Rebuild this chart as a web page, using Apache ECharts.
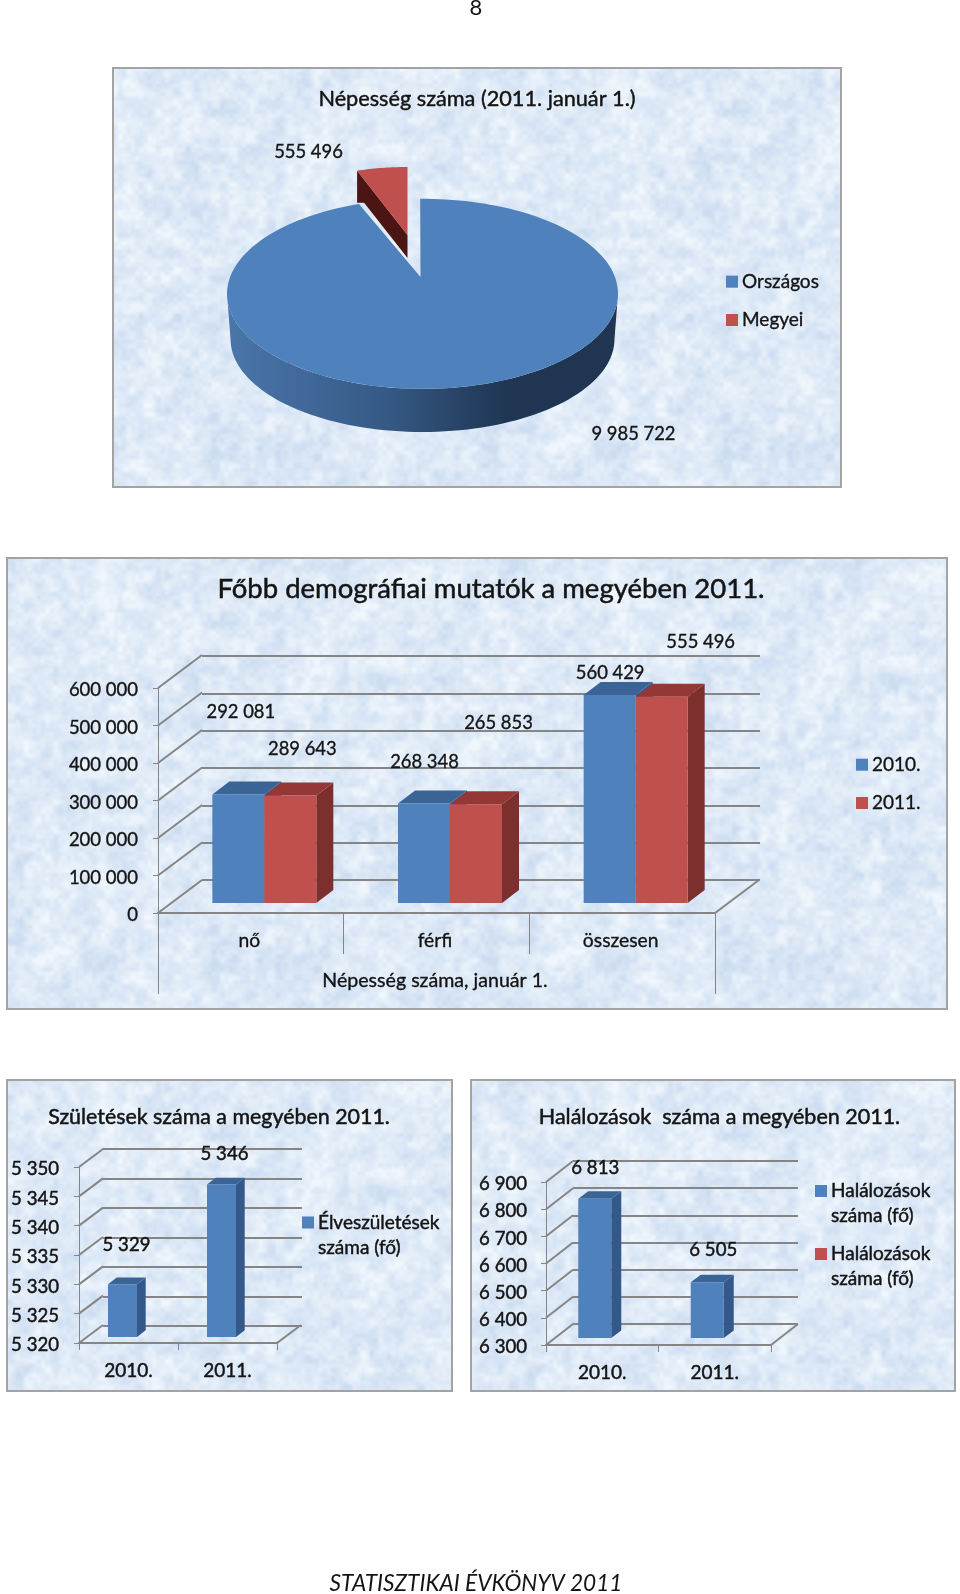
<!DOCTYPE html>
<html><head><meta charset="utf-8">
<style>html,body{margin:0;padding:0;background:#fff}#c{width:960px;height:1594px}</style>
<script src="https://cdn.jsdelivr.net/npm/echarts@6/dist/echarts.min.js"></script>
</head><body><div id="c"></div>
<script>
// ---------- data ----------
const pieNames = ['Országos', 'Megyei'];
const pieValues = [9985722, 555496];

const demoCategories = ['nő', 'férfi', 'összesen'];
const demoOuterCategory = ['Népesség száma, január 1.'];
const demoSeriesNames = ['2010.', '2011.'];
const demo2010 = [292081, 268348, 560429];
const demo2011 = [289643, 265853, 555496];
const demoTicks = [0, 100000, 200000, 300000, 400000, 500000, 600000];

const birthCategories = ['2010.', '2011.'];
const birthName = 'Élveszületések száma (fő)';
const birthValues = [5329, 5346];
const birthTicks = [5320, 5325, 5330, 5335, 5340, 5345, 5350];

const deathCategories = ['2010.', '2011.'];
const deathName = 'Halálozások száma (fő)';
const deathValues = [6813, 6505];
const deathTicks = [6300, 6400, 6500, 6600, 6700, 6800, 6900];

// ---------- style ----------
const FONT = 'Lato';
const INK = '#141414';
const GRID = '#858585';
const BLUE = {front:'#4f81bd', top:'#3b6496', side:'#35588a'};
const RED = {front:'#c0504d', top:'#953735', side:'#7c302e'};
const spaced = v => String(v).replace(/\B(?=(\d{3})+(?!\d))/g, ' ');
const heavy = w => ({textBorderColor:INK,textBorderWidth:w});

// soft mottled paper texture for the panels (deterministic tiling value noise)
function paper(){
  const s = 512, cv = document.createElement('canvas'); cv.width = cv.height = s;
  const ctx = cv.getContext('2d'), im = ctx.createImageData(s, s);
  const hash = (x,y,o)=>{let h=(x*374761393+y*668265263+o*2147483)|0; h=Math.imul(h^(h>>>13),1274126177); return ((h^(h>>>16))>>>0)/4294967295;};
  const smooth = t=>t*t*(3-2*t);
  const noise = (x,y,cells,o)=>{
    const u=x/s*cells,v=y/s*cells,i=Math.floor(u),j=Math.floor(v),a=smooth(u-i),b=smooth(v-j);
    const g=(p,q)=>hash((p+cells)%cells,(q+cells)%cells,o);
    return (g(i,j)*(1-a)+g(i+1,j)*a)*(1-b)+(g(i,j+1)*(1-a)+g(i+1,j+1)*a)*b;
  };
  for (let y=0;y<s;y++) for (let x=0;x<s;x++){
    const n = noise(x,y,8,1)*.14+noise(x,y,24,2)*.26+noise(x,y,55,3)*.36+noise(x,y,120,4)*.24;
    const t = Math.max(0,Math.min(1,(n-.22)/.56)), i=(y*s+x)*4;
    im.data[i]=205+t*34; im.data[i+1]=221+t*25; im.data[i+2]=241+t*11; im.data[i+3]=255;
  }
  ctx.putImageData(im,0,0); return cv;
}
const tex = {image: paper(), repeat:'repeat'};
const panel = (x,y,w,h)=>({type:'rect',z:-10,shape:{x,y,width:w,height:h},style:{fill:tex,stroke:'#a3a3a3',lineWidth:2}});

// ---------- 3-D column helpers ----------
const catCount = {0:demoCategories.length,2:birthCategories.length,4:deathCategories.length};
function wallSeries(gridIdx, ticks, dx, dy){
  return {type:'custom',silent:true,xAxisIndex:gridIdx,yAxisIndex:gridIdx,z:3,clip:false,
    data: ticks.map(t=>[0,t]),
    renderItem(p,api){
      const c=api.coord([0,api.value(1)]), bw=api.size([1,0])[0], x=c[0]-bw/2;
      const kids=[{type:'line',shape:{x1:x,y1:c[1],x2:x+dx,y2:c[1]+dy},style:{stroke:GRID,lineWidth:2}}];
      if(api.value(1)===ticks[0]){
        const xr=x+bw*catCount[gridIdx];
        kids.push({type:'line',shape:{x1:xr,y1:c[1],x2:xr+dx,y2:c[1]+dy},style:{stroke:GRID,lineWidth:2}});
      }
      return {type:'group',children:kids};
    }};
}
function barSeries(o){
  return {type:'custom',name:o.name,xAxisIndex:o.grid,yAxisIndex:o.grid,z:4,clip:false,
    itemStyle:{color:o.color.front},
    data:o.values.map((v,i)=>[i,v]),
    renderItem(p,api){
      const i=api.value(0), v=api.value(1), base=api.coord([i,o.min]), t=api.coord([i,v]);
      const x=base[0]+o.offX+o.slot*o.w, y0=base[1]+o.offY, y1=y0-(base[1]-t[1])*(o.depthScale||1), w=o.w, ddx=o.ddx, ddy=o.ddy;
      const sh=o.labelShift[i];
      return {type:'group',children:[
        {type:'polygon',shape:{points:[[x+w,y1],[x+w+ddx,y1+ddy],[x+w+ddx,y0+ddy],[x+w,y0]]},style:{fill:o.color.side}},
        {type:'polygon',shape:{points:[[x,y1],[x+ddx,y1+ddy],[x+w+ddx,y1+ddy],[x+w,y1]]},style:{fill:o.color.top}},
        {type:'rect',shape:{x,y:y1,width:w,height:y0-y1},style:{fill:o.color.front}},
        {type:'text',z2:50,style:{text:spaced(v),x:x+w/2+sh[0],y:y1+sh[1],align:'center',verticalAlign:'middle',
          fill:INK,font:o.labelFont,stroke:INK,lineWidth:o.labelHeavy}}
      ]};
    }};
}
function frontGrid(left,top,w,h){return {left,top,width:w,height:h};}
function yFront(grid,ticks,step,fs,hv,margin){
  return {type:'value',gridIndex:grid,min:ticks[0],max:ticks[ticks.length-1],interval:step,z:3,
    axisLine:{show:true,lineStyle:{color:GRID,width:1}},axisTick:{show:true,length:5,lineStyle:{color:GRID}},
    splitLine:{show:false},
    axisLabel:Object.assign({margin,color:INK,fontFamily:FONT,fontSize:fs,verticalAlign:'top',padding:[-fs/2+2,0,0,0],formatter:v=>spaced(v)},heavy(hv))};
}
function yBack(grid,ticks,step){
  return {type:'value',gridIndex:grid,min:ticks[0],max:ticks[ticks.length-1],interval:step,z:2,
    axisLine:{show:false},axisTick:{show:false},axisLabel:{show:false},
    splitLine:{show:true,lineStyle:{color:GRID,width:2}}};
}
function xFront(grid,cats,fs,hv,margin,tick,pad){
  return {type:'category',gridIndex:grid,data:cats,z:3,position:'bottom',
    axisLine:{show:true,onZero:false,lineStyle:{color:GRID,width:2}},
    axisTick:{show:true,length:tick,alignWithLabel:false,lineStyle:{color:GRID,width:1}},
    splitLine:{show:false},
    axisLabel:Object.assign({margin,color:INK,fontFamily:FONT,fontSize:fs,padding:pad||0},heavy(hv))};
}
const hiddenX = grid=>({type:'category',gridIndex:grid,show:false,data:['']});
const title = (text,cx,cy,fs,hv,extra)=>({text,left:cx,top:cy,padding:0,textAlign:'center',textVerticalAlign:'middle',
  textStyle:Object.assign({fontFamily:FONT,fontSize:fs,fontWeight:'normal',color:INK},heavy(hv),extra||{})});
const legend = (data,left,top,fs,hv,gap)=>({orient:'vertical',left,top,data,icon:'rect',
  itemWidth:12,itemHeight:12,itemGap:gap,padding:0,selectedMode:false,
  textStyle:Object.assign({fontFamily:FONT,fontSize:fs,color:INK,padding:[0,0,0,-1]},heavy(hv))});
const wrapLegend = (name,left,top)=>{
  const l=legend([name],left,top,19,.45,0);
  l.textStyle.lineHeight=25;
  l.textStyle.padding=[0,0,0,-1];
  // blank first line keeps the marker level with the first line of the wrapped name
  l.formatter=n=>'\n'+n.trim().replace(' száma','\nszáma');
  return l;
};

// ---------- 3-D pie ----------
const total = pieValues.reduce((a,b)=>a+b,0);
const ell = (cx,cy,rx,ry,a)=>[cx+rx*Math.sin(a),cy-ry*Math.cos(a)];
const arc = (cx,cy,rx,ry,a0,a1,n)=>Array.from({length:n+1},(_,k)=>ell(cx,cy,rx,ry,a0+(a1-a0)*k/n));
const PIE = {cx:422.5,cy:293.8,rx:195.5,ry:95,apex:[420.5,277],botCx:422.5,botCy:339,botRx:192,botRy:93,
             rApex:[407.5,235],rRx:155,rRy:68};
const valueFont='18.4px '+FONT;
function pieBig(p,api){
  const sweep=api.value(0)/total*Math.PI*2, P=PIE;
  const wallTop=arc(P.cx,P.cy,P.rx,P.ry,Math.PI/2,Math.PI*1.5,80);
  const wallBot=arc(P.botCx,P.botCy,P.botRx,P.botRy,Math.PI*1.5,Math.PI/2,80);
  const face=[P.apex].concat(arc(P.cx,P.cy,P.rx,P.ry,-.012,sweep,180));
  return {type:'group',children:[
    {type:'polygon',shape:{points:wallTop.concat(wallBot)},style:{fill:new echarts.graphic.LinearGradient(0,0,1,0,[
      {offset:0,color:'#4a76ab'},{offset:.4,color:'#365a86'},{offset:.72,color:'#1f3552'},{offset:1,color:'#1f3552'}])}},
    {type:'polygon',shape:{points:face},style:{fill:BLUE.front}},
    {type:'text',style:{text:spaced(api.value(0)),x:633.5,y:434,align:'center',verticalAlign:'middle',fill:INK,font:valueFont,stroke:INK,lineWidth:.35}}
  ]};
}
function pieSmall(p,api){
  const a=api.value(0)/total*Math.PI*2, P=PIE, A=P.rApex;
  const pts=arc(A[0],A[1],P.rRx,P.rRy,-a,0,20), tip=pts[0];
  return {type:'group',children:[
    {type:'polygon',shape:{points:[A,tip,[tip[0],tip[1]+32],[tip[0]+7,tip[1]+32],[A[0],A[1]+23]]},style:{fill:'#4a1513'}},
    {type:'polygon',shape:{points:[A].concat(pts)},style:{fill:RED.front}},
    {type:'text',style:{text:spaced(api.value(0)),x:308.5,y:152,align:'center',verticalAlign:'middle',fill:INK,font:valueFont,stroke:INK,lineWidth:.35}}
  ]};
}

// ---------- layout ----------
const labelMid=valueFont, labelHv='18.6px '+FONT;
const option = {
  animation:false,
  backgroundColor:'#ffffff',
  textStyle:{fontFamily:FONT},
  graphic:[panel(113,68,728,419),panel(7,558,940,451),panel(7,1080,445,311),panel(471,1080,484,311)],
  title:[
    title('8',476,8,22,0),
    title('Népesség száma (2011. január 1.)',477,99,21.7,.45),
    title('Főbb demográfiai mutatók a megyében 2011.',491,589,27.5,.5),
    title('Születések száma a megyében 2011.',219,1117,21.4,.5),
    title('Halálozások  száma a megyében 2011.',719.5,1117,21.5,.5),
    title('STATISZTIKAI ÉVKÖNYV 2011',476,1584,22.6,0,{fontStyle:'italic'})
  ],
  legend:[
    legend(pieNames,726,272,19,.35,19),
    legend(demoSeriesNames,856,755,19,.35,19),
    wrapLegend(birthName,302,1185),
    wrapLegend(deathName,815,1153.5),
    wrapLegend(deathName+' ',815,1216.5)
  ],
  grid:[
    frontGrid(158,688,557,225),frontGrid(202,656,558,224),
    frontGrid(79,1167,198,176),frontGrid(103,1149,199,177),
    frontGrid(546,1182,225,163),frontGrid(573,1161,225,163)
  ],
  xAxis:[
    xFront(0,demoCategories,19.3,.35,16,41,[2,3,0,0]),
    hiddenX(1),
    xFront(2,birthCategories,19,.45,18,7),
    hiddenX(3),
    xFront(4,deathCategories,19,.45,18,7),
    hiddenX(5),
    Object.assign(xFront(0,demoOuterCategory,19.6,.35,58,81,[0,3,0,0]),{axisLine:{show:false,onZero:false}})
  ],
  yAxis:[
    yFront(0,demoTicks,100000,18.5,.35,20),
    yBack(1,demoTicks,100000),
    yFront(2,birthTicks,5,18.6,.45,20),
    yBack(3,birthTicks,5),
    yFront(4,deathTicks,100,18.6,.45,19),
    yBack(5,deathTicks,100)
  ],
  series:[
    {type:'custom',name:pieNames[1],coordinateSystem:'none',z:3,itemStyle:{color:RED.front},data:[pieValues[1]],renderItem:pieSmall},
    {type:'custom',name:pieNames[0],coordinateSystem:'none',z:4,itemStyle:{color:BLUE.front},data:[pieValues[0]],renderItem:pieBig},

    wallSeries(0,demoTicks,44,-33),
    barSeries({name:demoSeriesNames[0],grid:0,values:demo2010,min:0,color:BLUE,slot:-1,w:52,offX:13.5,offY:-10,depthScale:.99,ddx:17,ddy:-13,labelFont:labelMid,labelHeavy:.35,
      labelShift:[[2.5,-83],[.5,-41],[.5,-22]]}),
    barSeries({name:demoSeriesNames[1],grid:0,values:demo2011,min:0,color:RED,slot:0,w:52,offX:13.5,offY:-10,depthScale:.99,ddx:17,ddy:-13,labelFont:labelMid,labelHeavy:.35,
      labelShift:[[12,-46],[22.5,-81],[39,-55]]}),

    wallSeries(2,birthTicks,24,-18),
    barSeries({name:birthName,grid:2,values:birthValues,min:5320,color:BLUE,slot:-.5,w:29,offX:-6,offY:-6,ddx:8.7,ddy:-6.7,labelFont:labelHv,labelHeavy:.45,
      labelShift:[[4,-39],[3,-30.5]]}),

    wallSeries(4,deathTicks,27,-21),
    barSeries({name:deathName,grid:4,values:deathValues,min:6300,color:BLUE,slot:-.5,w:33,offX:-7.5,offY:-7,ddx:10,ddy:-7.5,labelFont:labelHv,labelHeavy:.45,
      labelShift:[[.5,-31],[6,-32]]}),
    barSeries({name:deathName+' ',grid:4,values:[],min:6300,color:RED,slot:.5,w:33,offX:-7.5,offY:-7,ddx:10,ddy:-7.5,labelFont:labelHv,labelHeavy:.45,labelShift:[]})
  ]
};
const chart = echarts.init(document.getElementById('c'),null,{renderer:'canvas'});
chart.setOption(option);
</script></body></html>
